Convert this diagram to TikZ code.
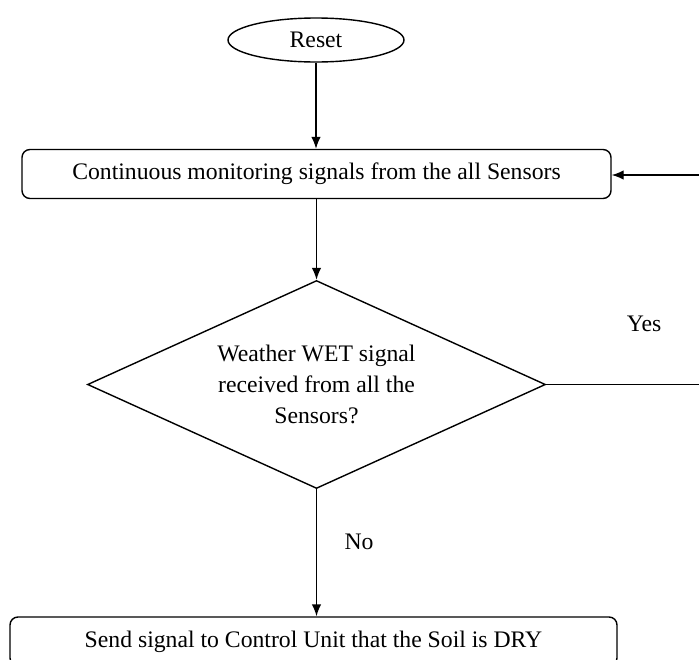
\documentclass[tikz,border=0pt]{standalone}
\usepackage{fontspec}
\setmainfont{Liberation Serif}
\usetikzlibrary{shapes.geometric,arrows.meta}
\begin{document}
\begin{tikzpicture}[x=1pt,y=-1pt,
  every node/.style={font=\fontsize{23.7}{31}\selectfont},
  line/.style={draw=black,line width=1.4pt},
  arrowline/.style={line,-{Latex[length=12pt,width=9.5pt]}},
  startbox/.style={ellipse,draw=black,line width=1.4pt,fill=white,minimum width=176pt,minimum height=44pt,inner sep=0pt},
  procbox/.style={rectangle,rounded corners=8pt,draw=black,line width=1.4pt,fill=white,minimum height=49pt,inner sep=0pt},
  decbox/.style={diamond,draw=black,line width=1.4pt,fill=white,minimum width=458pt,minimum height=208pt,inner sep=0pt,align=center,aspect=2.2},
  lbl/.style={anchor=base,inner sep=0pt}
]
\useasboundingbox (0,0) rectangle (699,659);
\clip (0,0) rectangle (699,659);
\fill[white] (0,0) rectangle (699,659);

\node[startbox] (reset) at (316,40) {Reset};
\node[procbox,minimum width=589pt] (mon) at (316.5,174) {Continuous monitoring signals from the all Sensors};
\node[decbox] (dec) at (316.5,384.5) {Weather WET signal\\received from all the\\Sensors?};
\node[procbox,minimum width=607pt] (send) at (313.5,641.5) {Send signal to Control Unit that the Soil is DRY};

\coordinate (loopa) at (730,384.5);
\coordinate (loopb) at (730,175);

\draw[arrowline] (reset.south) -- (reset.south |- mon.north);
\draw[arrowline] (mon.south -| dec.north) -- (dec.north);
\draw[arrowline] (dec.south) -- (dec.south |- send.north);
\draw[arrowline] (dec.east) -- (loopa) -- (loopb) -- (loopb -| mon.east);

\node[lbl] (yes) at (644,331) {Yes};
\node[lbl] (no) at (359,549) {No};
\end{tikzpicture}
\end{document}
